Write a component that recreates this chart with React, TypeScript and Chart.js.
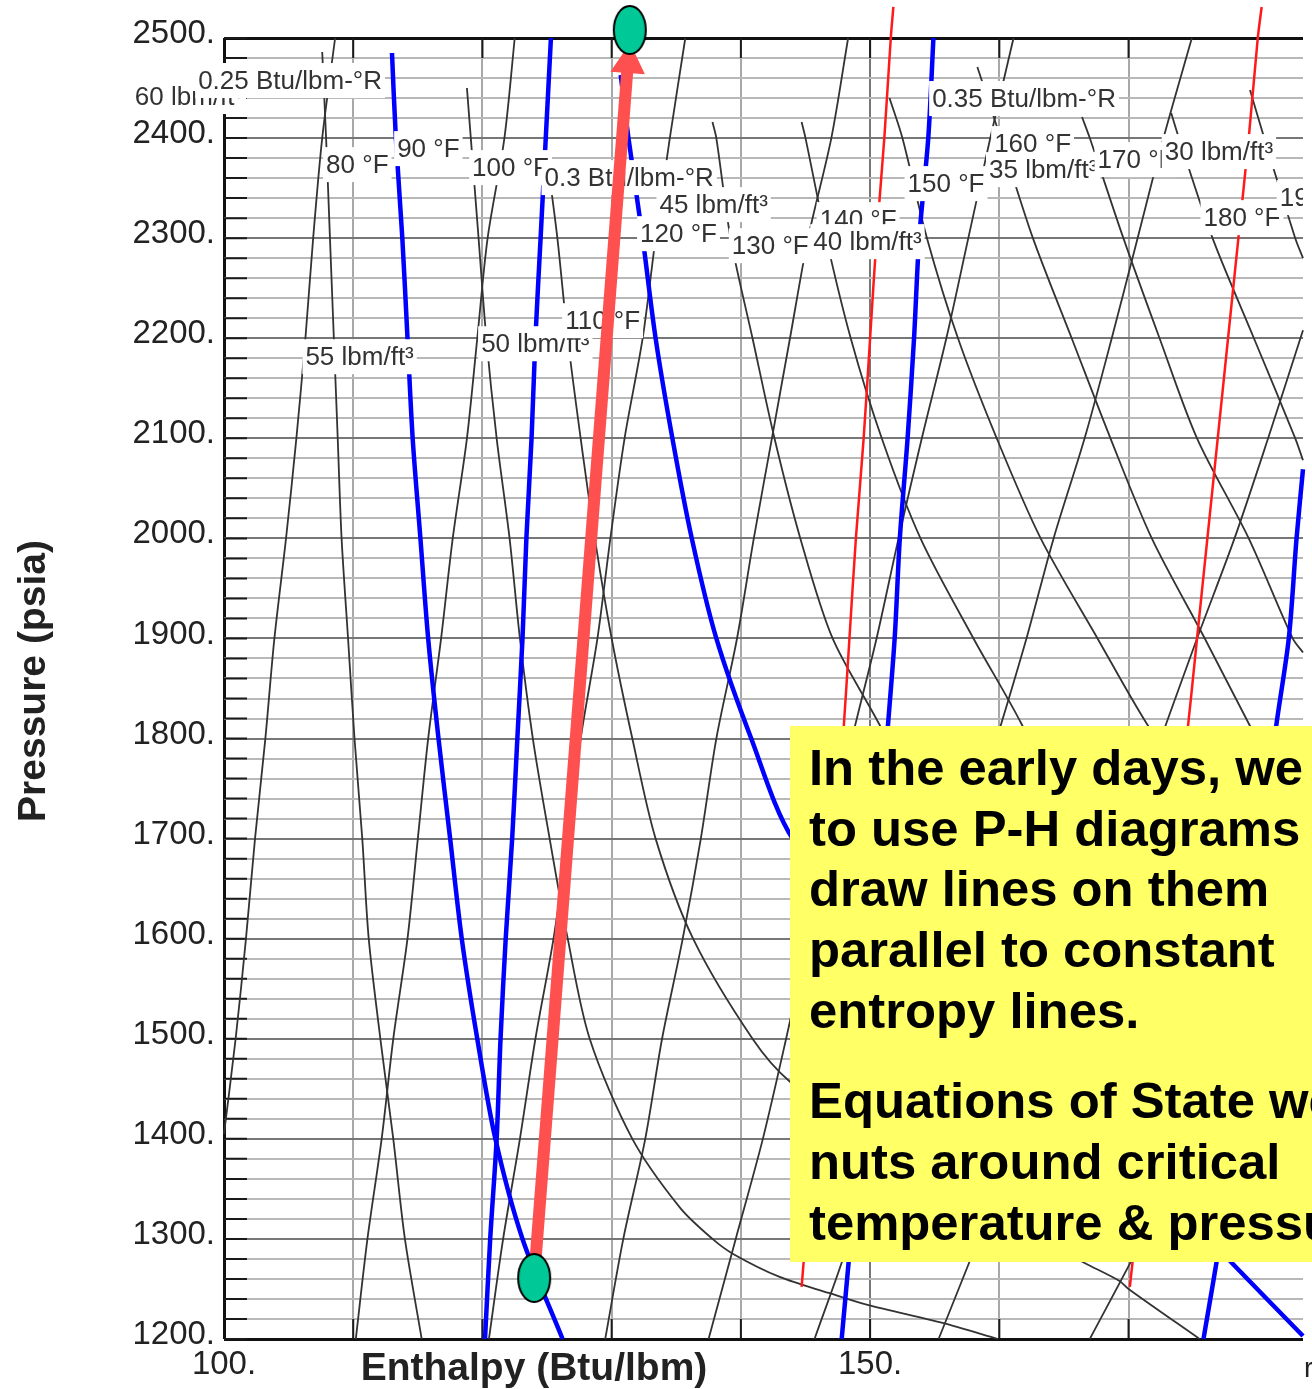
import React, { useEffect, useRef } from "react";
import { Chart, registerables } from "chart.js";

Chart.register(...registerables);

const FONT = '"Liberation Sans", Arial, sans-serif';

// Common pressure lists (psia)
const fullP = [2500, 2400, 2300, 2200, 2100, 2000, 1900, 1800, 1700, 1600, 1500, 1400, 1300, 1200];

// Constant density lines (thin black, rising)
const d60H = [108.6, 107.6, 106.9, 106.3, 105.6, 104.8, 103.9, 103.2, 102.4, 101.7, 100.9, 100];
const d60P = [2500, 2400, 2300, 2200, 2100, 2000, 1900, 1800, 1700, 1600, 1500, 1405];
const d55H = [122.5, 121.7, 120.4, 119.6, 118.8, 117.7, 116.8, 115.8, 115.0, 114.2, 113.1, 112.2, 111.1, 110.2];
const d50H = [135.7, 134.5, 133.4, 132.4, 131.0, 129.9, 128.9, 127.6, 126.6, 125.5, 124.1, 122.9, 121.6, 120.5];
const d45H = [148.3, 147.0, 145.2, 143.8, 142.4, 141.0, 139.7, 138.1, 136.9, 135.5, 133.9, 132.6, 130.9, 129.5];
const d40H = [161.1, 159.3, 157.6, 155.9, 154.0, 152.2, 150.5, 148.6, 146.9, 145.2, 143.5, 141.7, 139.6, 137.5];
const d35H = [174.9, 172.7, 170.7, 168.7, 166.6, 164.2, 162.1, 159.8, 157.4, 155.0, 152.7, 150.4, 148.4, 145.7];
const d30H = [183.5, 180.8, 178.2, 175.3, 172.5, 169.7, 167.0, 164.3, 161.5, 158.4, 155.3];
const d30P = [2208, 2100, 2000, 1900, 1800, 1700, 1600, 1500, 1400, 1300, 1200];
const d25H = [183.5, 171.1, 167.0];
const d25P = [1618, 1300, 1200];

// Constant temperature lines (thin black, falling)
const t80H = [107.6, 107.9, 108.2, 108.5, 108.8, 109.1, 109.6, 110.1, 110.7, 111.2, 112.1, 113.1, 114.0, 115.3];
const t80P = [2486, 2400, 2300, 2200, 2100, 2000, 1900, 1800, 1700, 1600, 1500, 1400, 1300, 1200];
const t100H = [118.8, 119.1, 119.7, 120.3, 121.1, 122.1, 122.9, 123.9, 125.2, 126.6, 128.3, 131.6, 135.3, 137.8, 139.4, 143.0, 146.8, 149.8, 155.6, 159.9];
const t100P = [2450, 2400, 2300, 2200, 2100, 2000, 1900, 1800, 1700, 1600, 1500, 1400, 1331, 1300, 1285, 1262, 1246, 1234, 1216, 1200];
const t110H = [125.2, 125.8, 126.6, 127.6, 128.7, 130.0, 131.6, 133.4, 136.3, 140.9, 143.8, 150.0, 163.2, 166.6, 169.3, 170.0, 175.5];
const t110P = [2361, 2300, 2200, 2100, 2000, 1900, 1800, 1700, 1600, 1500, 1457, 1400, 1300, 1276, 1258, 1250, 1200];
const t130H = [137.8, 138.1, 139.2, 140.9, 142.6, 144.6, 147.1, 150.8, 155.0];
const t130P = [2416, 2400, 2300, 2200, 2100, 2000, 1900, 1812, 1700];
const t140H = [144.7, 145.0, 146.6, 148.5, 150.9, 153.9, 158.0, 161.7, 165.9];
const t140P = [2416, 2400, 2300, 2200, 2100, 2000, 1900, 1815, 1700];
const t150H = [151.5, 152.5, 154.4, 156.8, 159.8, 163.2, 167.6, 171.4, 175.5];
const t150P = [2440, 2400, 2300, 2200, 2100, 2000, 1900, 1815, 1738];
const t160H = [158.3, 160.1, 162.6, 165.6, 168.6, 171.8, 175.9, 179.3, 182.5];
const t160P = [2471, 2400, 2300, 2200, 2100, 2000, 1900, 1815, 1738];
const t170H = [166.4, 167.0, 169.6, 172.4, 175.3, 179.3, 182.7, 183.5];
const t170P = [2421, 2400, 2300, 2200, 2100, 2000, 1900, 1886];
const t180H = [173.3, 173.9, 176.5, 179.7, 182.9, 183.5];
const t180P = [2425, 2400, 2300, 2200, 2100, 2078];
const t190H = [179.4, 180.5, 182.9, 183.5];
const t190P = [2448, 2400, 2300, 2280];

// Highlighted isotherms (thick blue, falling)
const t90H = [113.0, 113.3, 113.8, 114.2, 114.6, 115.2, 115.8, 116.6, 117.5, 118.4, 119.6, 121.0, 123.1, 126.2];
const t90P = [2485, 2400, 2300, 2200, 2100, 2000, 1900, 1800, 1700, 1600, 1500, 1400, 1300, 1200];
const t120H = [130.7, 131.3, 132.4, 133.4, 134.7, 136.2, 138.1, 140.8, 144.0, 150.8, 157.4, 165.1, 176.3, 178.0, 183.5];
const t120P = [2463, 2400, 2300, 2200, 2100, 2000, 1900, 1800, 1700, 1600, 1500, 1400, 1300, 1276, 1203];

// Constant entropy lines (thick blue, rising)
const s030H = [125.3, 124.9, 124.5, 124.1, 123.8, 123.4, 123.1, 122.7, 122.3, 121.8, 121.4, 121.1, 120.6, 120.2];
const s035H = [154.9, 154.5, 153.8, 153.4, 152.9, 152.3, 151.9, 151.3, 150.7, 150.2, 149.7, 149.2, 148.5, 147.8];
const s040H = [183.5, 183.0, 182.4, 181.3, 180.6, 179.8, 179.0, 178.2, 177.1, 175.8];
const s040P = [2069, 2000, 1900, 1800, 1700, 1600, 1500, 1400, 1300, 1200];

// Red lines
const redAH = [151.8, 151.6, 151.1, 150.5, 150.0, 149.5, 148.9, 148.4, 147.9, 147.3, 146.7, 146.2, 145.6, 145.0, 144.7];
const redAP = [2531, 2500, 2400, 2300, 2200, 2100, 2000, 1900, 1800, 1700, 1600, 1500, 1400, 1300, 1252];
const redBH = [180.3, 180.0, 179.3, 178.5, 177.7, 176.9, 176.1, 175.3, 174.5, 173.6, 172.8, 172.1, 171.3, 170.5, 170.1];
const redBP = [2531, 2500, 2400, 2300, 2200, 2100, 2000, 1900, 1800, 1700, 1600, 1500, 1400, 1300, 1252];

// Compression path and its end points
const pathH = [124.0, 131.2];
const pathP = [1261, 2466];
const headH = [131.3];
const headP = [2475];
const stateH = [124.0, 131.4];
const stateP = [1261, 2508];

// Curve labels
const labelText = [
  "60 lbm/ft³", "0.25 Btu/lbm-°R", "80 °F", "90 °F", "100 °F", "0.3 Btu/lbm-°R", "45 lbm/ft³", "120 °F",
  "130 °F", "140 °F", "40 lbm/ft³", "150 °F", "0.35 Btu/lbm-°R", "160 °F", "35 lbm/ft³", "170 °F",
  "30 lbm/ft³", "180 °F", "190 °F", "55 lbm/ft³", "50 lbm/ft³", "110 °F",
];
const labelH = [93.1, 98.0, 107.9, 113.4, 119.2, 124.8, 133.7, 132.2, 139.3, 146.1, 145.6, 152.9, 154.8, 159.6, 159.2, 167.6, 172.8, 175.8, 181.7, 106.3, 119.9, 126.4];
const labelP = [2442, 2458, 2374, 2390, 2371, 2361, 2334, 2305, 2293, 2319, 2297, 2355, 2440, 2395, 2369, 2379, 2387, 2321, 2341, 2182, 2195, 2218];

const xTitle = "Enthalpy (Btu/lbm)";
const yTitle = "Pressure (psia)";
const noteA = ["In the early days, we", "to use P-H diagrams", "draw lines on them", "parallel to constant", "entropy lines."];
const noteB = ["Equations of State went", "nuts around critical", "temperature & pressure"];

const pts = (h: number[], p: number[]) => h.map((x, i) => ({ x, y: p[i] }));

const curve = (h: number[], p: number[], color: string, width: number, order: number) => ({
  data: pts(h, p),
  showLine: true,
  borderColor: color,
  borderWidth: width,
  pointRadius: 0,
  tension: 0.3,
  clip: false as const,
  order,
});

function ellipseStyle() {
  const c = document.createElement("canvas");
  c.width = 36;
  c.height = 52;
  const g = c.getContext("2d")!;
  g.beginPath();
  g.ellipse(18, 26, 16, 24, 0, 0, Math.PI * 2);
  g.fillStyle = "#00C896";
  g.fill();
  g.lineWidth = 2;
  g.strokeStyle = "#000";
  g.stroke();
  return c;
}

const BLACK = "#333333";
const BLUE = "#0000ff";
const RED = "#ff1a1a";
const THIN = 1.8;
const THICK = 4.5;

export default function App() {
  const ref = useRef<HTMLCanvasElement>(null);
  useEffect(() => {
    const datasets: any[] = [
      { data: pts(stateH, stateP), showLine: false, pointStyle: ellipseStyle(), pointRadius: 26, clip: false, order: 0 },
      { data: pts(headH, headP), showLine: false, pointStyle: "triangle", pointRadius: 20, pointRotation: 4.5, pointBackgroundColor: "#FF5050", pointBorderWidth: 0, clip: false, order: 1 },
      { data: pts(pathH, pathP), showLine: true, borderColor: "#FF5050", borderWidth: 12, borderCapStyle: "butt", pointRadius: 0, clip: false, order: 2 },
      curve(redAH, redAP, RED, 2.5, 3),
      curve(redBH, redBP, RED, 2.5, 3),
      curve(t90H, t90P, BLUE, THICK, 4),
      curve(t120H, t120P, BLUE, THICK, 4),
      curve(s030H, fullP, BLUE, THICK, 4),
      curve(s035H, fullP, BLUE, THICK, 4),
      curve(s040H, s040P, BLUE, THICK, 4),
      curve(d60H, d60P, BLACK, THIN, 5),
      curve(d55H, fullP, BLACK, THIN, 5),
      curve(d50H, fullP, BLACK, THIN, 5),
      curve(d45H, fullP, BLACK, THIN, 5),
      curve(d40H, fullP, BLACK, THIN, 5),
      curve(d35H, fullP, BLACK, THIN, 5),
      curve(d30H, d30P, BLACK, THIN, 5),
      curve(d25H, d25P, BLACK, THIN, 5),
      curve(t80H, t80P, BLACK, THIN, 5),
      curve(t100H, t100P, BLACK, THIN, 5),
      curve(t110H, t110P, BLACK, THIN, 5),
      curve(t130H, t130P, BLACK, THIN, 5),
      curve(t140H, t140P, BLACK, THIN, 5),
      curve(t150H, t150P, BLACK, THIN, 5),
      curve(t160H, t160P, BLACK, THIN, 5),
      curve(t170H, t170P, BLACK, THIN, 5),
      curve(t180H, t180P, BLACK, THIN, 5),
      curve(t190H, t190P, BLACK, THIN, 5),
    ];

    const chartPlugin = {
      id: "phDecor",
      beforeDatasetsDraw(chart: any) {
        const { ctx, chartArea: a, scales } = chart;
        ctx.save();
        ctx.strokeStyle = "#1a1a1a";
        ctx.lineWidth = 2;
        ctx.beginPath();
        for (const t of scales.y.ticks) {
          const y = scales.y.getPixelForValue(t.value);
          ctx.moveTo(a.left, y);
          ctx.lineTo(a.left + 23, y);
        }
        for (const t of scales.x.ticks) {
          if (t.value === 100) continue;
          const x = scales.x.getPixelForValue(t.value);
          ctx.moveTo(x, a.top);
          ctx.lineTo(x, a.top + 20);
          ctx.moveTo(x, a.bottom);
          ctx.lineTo(x, a.bottom - 20);
        }
        ctx.stroke();
        ctx.restore();
      },
      // labels sit above the curves but beneath the compression arrow
      beforeDatasetDraw(chart: any, args: any) {
        if (args.index !== 2) return;
        const { ctx, chartArea: a, scales } = chart;
        ctx.save();
        ctx.beginPath();
        ctx.rect(0, 0, a.right, chart.height);
        ctx.clip();
        ctx.font = `26px ${FONT}`;
        ctx.textBaseline = "middle";
        ctx.textAlign = "left";
        labelText.forEach((text, i) => {
          const x = scales.x.getPixelForValue(labelH[i]);
          const y = scales.y.getPixelForValue(labelP[i]);
          const w = ctx.measureText(text).width;
          ctx.fillStyle = "#ffffff";
          ctx.fillRect(x - 3, y - 17, w + 6, 35);
          ctx.fillStyle = "#333333";
          ctx.fillText(text, x, y + 2);
        });
        ctx.restore();
      },
      afterDraw(chart: any) {
        const { ctx } = chart;
        ctx.save();
        ctx.fillStyle = "#222222";
        ctx.font = `bold 39px ${FONT}`;
        ctx.textAlign = "center";
        ctx.textBaseline = "middle";
        ctx.fillText(xTitle, 534, 1369);
        ctx.translate(34, 681);
        ctx.rotate(-Math.PI / 2);
        ctx.fillText(yTitle, 0, 0);
        ctx.restore();
        ctx.save();
        ctx.fillStyle = "#222222";
        ctx.font = `28px ${FONT}`;
        ctx.textAlign = "left";
        ctx.textBaseline = "alphabetic";
        ctx.fillText("r", 1304, 1377);
        ctx.restore();
      },
    };

    const chart = new Chart(ref.current!, {
      type: "scatter",
      data: { datasets },
      plugins: [chartPlugin],
      options: {
        animation: false,
        responsive: false,
        layout: { autoPadding: false, padding: { top: 38, right: 9, left: 0, bottom: 0 } },
        plugins: { legend: { display: false }, tooltip: { enabled: false } },
        events: [],
        scales: {
          x: {
            type: "linear",
            min: 100,
            max: 183.5,
            afterFit: (s: any) => {
              s.height = 50;
              s.paddingLeft = 0;
              s.paddingRight = 0;
            },
            afterBuildTicks: (s: any) => {
              s.ticks = s.ticks.filter((t: any) => Math.abs(t.value % 10) < 1e-6);
            },
            border: { display: false },
            grid: {
              drawTicks: false,
              color: (c: any) => (c.tick.value === 100 ? "#111111" : c.tick.value === 150 ? "#777777" : "#a8a8a8"),
              lineWidth: (c: any) => (c.tick.value === 100 ? 3 : 2),
            },
            ticks: {
              stepSize: 10,
              autoSkip: false,
              maxRotation: 0,
              padding: 6,
              color: "#222222",
              font: { family: FONT, size: 33 },
              callback: (v: any) => (v === 100 || v === 150 ? `${v}.` : ""),
            },
          },
          y: {
            type: "linear",
            min: 1200,
            max: 2500,
            afterFit: (s: any) => {
              s.width = 224;
              s.paddingTop = 0;
              s.paddingBottom = 0;
            },
            border: { display: false },
            grid: {
              drawTicks: false,
              color: (c: any) => {
                const v = Math.round(c.tick.value);
                if (v === 1200 || v === 2500) return "#111111";
                return v % 100 === 0 ? "#777777" : "#b8b8b8";
              },
              lineWidth: (c: any) => {
                const v = Math.round(c.tick.value);
                return v === 1200 || v === 2500 ? 3 : 2;
              },
            },
            ticks: {
              stepSize: 20,
              autoSkip: false,
              padding: 9,
              color: "#222222",
              font: { family: FONT, size: 33, lineHeight: "8px" },
              callback: (v: any) => (Math.round(v) % 100 === 0 ? [`${Math.round(v)}.`, ""] : ""),
            },
          },
        },
      } as any,
    });
    return () => chart.destroy();
  }, []);

  const lineStyle: React.CSSProperties = { height: 60.7, lineHeight: "60.7px", whiteSpace: "pre" };
  return (
    <div style={{ position: "absolute", left: 0, top: 0, width: 1312, height: 1389, overflow: "hidden", background: "#fff" }}>
      <canvas ref={ref} width={1312} height={1389} style={{ display: "block", width: 1312, height: 1389 }} />
      <div
        style={{
          position: "absolute",
          left: 790,
          top: 726,
          width: 522,
          height: 536,
          background: "#FFFF66",
          overflow: "hidden",
          color: "#000",
          fontFamily: FONT,
          fontWeight: 700,
          fontSize: 50.8,
          boxSizing: "border-box",
          paddingLeft: 19,
          paddingTop: 12,
        }}
      >
        {noteA.map((t) => (
          <div key={t} style={lineStyle}>{t}</div>
        ))}
        <div style={{ height: 30 }} />
        {noteB.map((t) => (
          <div key={t} style={lineStyle}>{t}</div>
        ))}
      </div>
    </div>
  );
}
